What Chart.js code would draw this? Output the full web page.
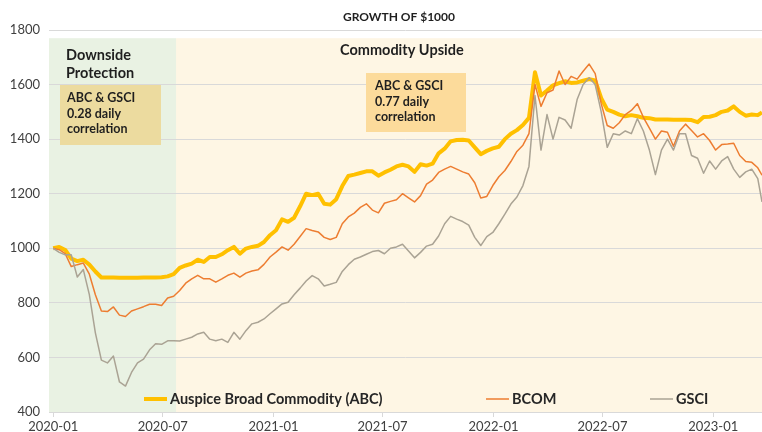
<!DOCTYPE html>
<html>
<head>
<meta charset="utf-8">
<script src="https://cdn.jsdelivr.net/npm/chart.js@4"></script>
<style>
  body { margin: 0; background: #fff; }
</style>
</head>
<body>
<canvas id="growthChart" width="762" height="432"></canvas>
<script>
// days since 2020-01-01
const days = [0, 10, 20, 30, 40, 50, 60, 70, 80, 90, 100, 110, 120, 130, 140, 150, 160, 170, 180, 190,
  200, 210, 220, 230, 240, 250, 260, 270, 280, 290, 300, 310, 320, 330, 340, 350, 360, 370, 380, 390,
  400, 410, 420, 430, 440, 450, 460, 470, 480, 490, 500, 510, 520, 530, 540, 550, 560, 570, 580, 590,
  600, 610, 620, 630, 640, 650, 660, 670, 680, 690, 700, 710, 720, 730, 740, 750, 760, 770, 780, 790,
  800, 810, 820, 830, 840, 850, 860, 870, 880, 890, 900, 910, 920, 930, 940, 950, 960, 970, 980, 990,
  1000, 1010, 1020, 1030, 1040, 1050, 1060, 1070, 1080, 1090, 1100, 1110, 1120, 1130, 1140, 1150, 1160, 1170, 1177];

const abc = [1000, 1005, 994, 962, 953, 958, 940, 915, 893, 893, 893, 892, 892, 892, 892, 893, 893, 893, 894, 897,
  905, 928, 937, 944, 958, 950, 968, 968, 978, 993, 1005, 980, 999, 1005, 1009, 1023, 1048, 1066, 1106, 1097,
  1112, 1154, 1200, 1195, 1200, 1163, 1160, 1180, 1228, 1265, 1270, 1276, 1282, 1282, 1266, 1278, 1288, 1300, 1306, 1300,
  1280, 1308, 1303, 1310, 1348, 1365, 1392, 1397, 1398, 1395, 1370, 1345, 1357, 1366, 1372, 1400, 1420, 1433, 1452, 1478,
  1645, 1560, 1578, 1597, 1605, 1612, 1606, 1608, 1614, 1620, 1615, 1550, 1508, 1500, 1490, 1484, 1488, 1484, 1478, 1477,
  1472, 1472, 1472, 1471, 1471, 1471, 1470, 1462, 1481, 1482, 1488, 1500, 1505, 1520, 1500, 1486, 1490, 1488, 1498];

const bcom = [1000, 995, 980, 933, 940, 946, 905, 830, 770, 768, 785, 755, 750, 770, 778, 786, 795, 795, 790, 818,
  824, 845, 872, 888, 901, 888, 888, 876, 888, 901, 909, 894, 909, 917, 921, 941, 968, 986, 1005, 993,
  1015, 1043, 1072, 1065, 1060, 1040, 1032, 1040, 1090, 1115, 1129, 1150, 1163, 1140, 1130, 1165, 1172, 1178, 1200, 1185,
  1170, 1193, 1235, 1250, 1278, 1290, 1300, 1290, 1280, 1272, 1240, 1184, 1190, 1230, 1262, 1285, 1318, 1355, 1378, 1420,
  1600, 1520, 1570, 1580, 1650, 1600, 1630, 1620, 1649, 1675, 1640, 1530, 1450, 1440, 1460, 1490, 1505, 1530, 1480, 1440,
  1400, 1430, 1425, 1374, 1430, 1455, 1432, 1408, 1420, 1395, 1360, 1380, 1382, 1385, 1340, 1318, 1315, 1295, 1268];

const gsci = [1000, 985, 976, 976, 895, 922, 830, 690, 590, 580, 605, 510, 495, 545, 580, 594, 628, 650, 648, 661,
  661, 660, 667, 674, 686, 692, 667, 661, 667, 655, 692, 667, 698, 723, 729, 741, 760, 778, 796, 802,
  830, 854, 880, 900, 888, 862, 868, 875, 915, 940, 960, 968, 978, 988, 992, 980, 1000, 1005, 1015, 990,
  965, 985, 1008, 1015, 1045, 1090, 1117, 1107, 1098, 1085, 1040, 1010, 1043, 1058, 1090, 1125, 1162, 1188, 1230, 1300,
  1560, 1360, 1490, 1400, 1480, 1470, 1440, 1545, 1600, 1625, 1600, 1500, 1370, 1420, 1415, 1430, 1420, 1475, 1430, 1360,
  1270, 1360, 1400, 1360, 1420, 1420, 1340, 1330, 1275, 1320, 1290, 1320, 1336, 1290, 1260, 1280, 1290, 1255, 1170];

const tickDays = [0, 182, 366, 547, 731, 912, 1096];
const tickLabels = ['2020-01', '2020-07', '2021-01', '2021-07', '2022-01', '2022-07', '2023-01'];
const seriesNames = ['Auspice Broad Commodity (ABC)', 'BCOM', 'GSCI'];

// end of the "Downside Protection" phase (day) and top of the shaded bands
const phaseEnd = 204;
const phaseTop = 1770;

const FONT = 'Lato, "Open Sans", sans-serif';

function points(values) {
  return values.map((v, i) => ({ x: days[i], y: v }));
}

const backdrop = {
  id: 'backdrop',
  beforeDraw(chart) {
    const { ctx, chartArea, scales } = chart;
    const top = scales.y.getPixelForValue(phaseTop);
    const mid = scales.x.getPixelForValue(phaseEnd);
    ctx.save();
    ctx.fillStyle = '#e9f2e3';
    ctx.fillRect(chartArea.left, top, mid - chartArea.left, chartArea.bottom - top);
    ctx.fillStyle = '#fef6e4';
    ctx.fillRect(mid, top, chartArea.right - mid, chartArea.bottom - top);
    ctx.restore();
  }
};

const notes = {
  id: 'notes',
  beforeDatasetsDraw(chart) {
    const ctx = chart.ctx;
    ctx.save();
    ctx.textBaseline = 'middle';
    ctx.fillStyle = '#1f1f1f';

    // title
    ctx.font = 'bold 12px ' + FONT;
    ctx.textAlign = 'center';
    ctx.fillText('GROWTH OF $1000', 399, 17);

    ctx.textAlign = 'left';
    ctx.font = 'bold 14.5px ' + FONT;
    ctx.fillText('Downside', 66, 55);
    ctx.fillText('Protection', 66, 73);
    ctx.fillText('Commodity Upside', 340, 50);

    ctx.fillStyle = '#ecdb9f';
    ctx.fillRect(60, 85, 101, 60);
    ctx.fillStyle = '#fcdb9b';
    ctx.fillRect(366, 73, 100, 59);

    ctx.fillStyle = '#1f1f1f';
    ctx.font = 'bold 12.5px ' + FONT;
    ['ABC & GSCI', '0.28 daily', 'correlation'].forEach((t, i) => ctx.fillText(t, 67, 98 + i * 15.5));
    ['ABC & GSCI', '0.77 daily', 'correlation'].forEach((t, i) => ctx.fillText(t, 375, 86 + i * 15.5));
    ctx.restore();
  },
  afterDatasetsDraw(chart) {
    const ctx = chart.ctx;
    const legendX = [144, 486, 650];
    ctx.save();
    ctx.textBaseline = 'middle';
    ctx.font = 'bold 14.5px ' + FONT;
    chart.data.datasets.forEach((ds, i) => {
      const x = legendX[i];
      ctx.strokeStyle = ds.borderColor;
      ctx.lineWidth = ds.borderWidth;
      ctx.beginPath();
      ctx.moveTo(x, 399);
      ctx.lineTo(x + 23, 399);
      ctx.stroke();
      ctx.fillStyle = '#262626';
      ctx.fillText(ds.label, x + 26, 399);
    });
    ctx.restore();
  }
};

new Chart(document.getElementById('growthChart'), {
  type: 'line',
  data: {
    datasets: [
      { label: seriesNames[0], data: points(abc), borderColor: '#ffc000', borderWidth: 4, order: 3 },
      { label: seriesNames[1], data: points(bcom), borderColor: '#ed7d31', borderWidth: 1.5, order: 2 },
      { label: seriesNames[2], data: points(gsci), borderColor: '#aaa394', borderWidth: 1.5, order: 1 }
    ]
  },
  options: {
    responsive: false,
    animation: false,
    layout: { padding: { top: 30, right: 0, left: 0, bottom: 0 } },
    elements: {
      point: { radius: 0 },
      line: { tension: 0, borderJoinStyle: 'round' }
    },
    scales: {
      x: {
        type: 'linear',
        min: -7,
        max: 1177,
        afterBuildTicks: (scale) => { scale.ticks = tickDays.map(v => ({ value: v })); },
        afterFit: (scale) => { scale.height = 20; },
        ticks: {
          autoSkip: false,
          maxRotation: 0,
          padding: 2,
          color: '#404040',
          font: { family: FONT, size: 13 },
          callback: (value, index) => tickLabels[index]
        },
        grid: { drawOnChartArea: false, drawTicks: true, tickLength: 5, color: '#d9d9d9' },
        border: { color: '#d9d9d9' }
      },
      y: {
        min: 400,
        max: 1800,
        afterFit: (scale) => { scale.width = 49; },
        ticks: {
          stepSize: 200,
          padding: 9,
          color: '#404040',
          font: { family: FONT, size: 13 },
          callback: (value) => String(value)
        },
        grid: { color: '#d9d9d9', drawTicks: false },
        border: { display: false }
      }
    },
    plugins: {
      legend: { display: false },
      title: { display: false },
      tooltip: { enabled: false }
    }
  },
  plugins: [backdrop, notes]
});
</script>
</body>
</html>
